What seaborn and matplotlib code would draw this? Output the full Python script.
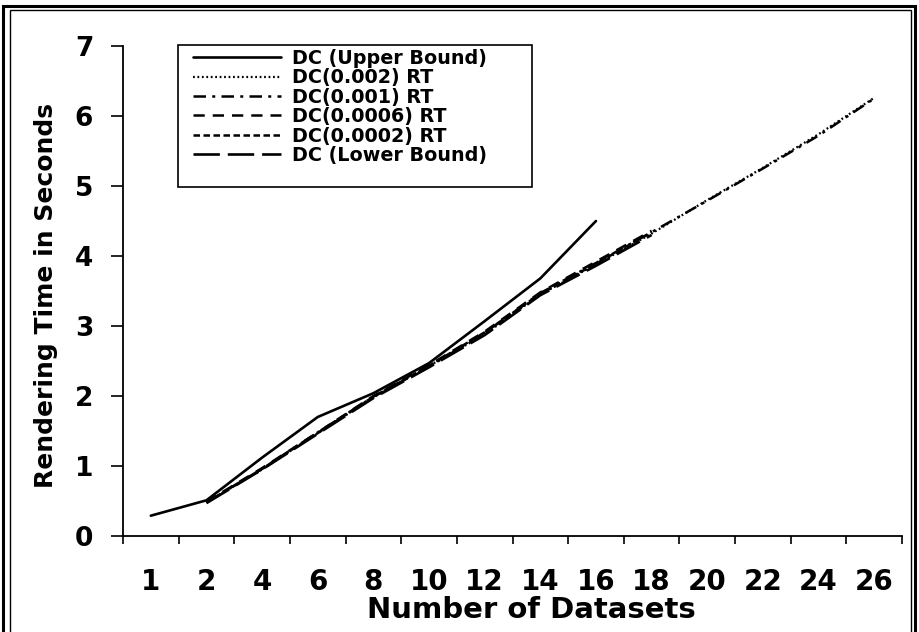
import numpy as np
import pandas as pd
import matplotlib
matplotlib.use("Agg")
import matplotlib.pyplot as plt
from matplotlib.patches import Rectangle
import seaborn as sns

# Number of datasets (categorical x axis)
categories = ["1", "2", "4", "6", "8", "10", "12", "14", "16", "18", "20", "22", "24", "26"]

# Rendering time in seconds for each configuration (nan = not measured)
nan = np.nan
upper_bound = [0.29, 0.51, 1.12, 1.70, 2.04, 2.47, 3.07, 3.68, 4.50, nan, nan, nan, nan, nan]
rt_0002 = [nan, 0.48, 0.95, 1.47, 1.98, 2.43, 2.88, 3.45, 3.88, 4.32, 4.80, 5.26, 5.74, 6.26]
rt_0001 = [nan, 0.48, 0.96, 1.48, 1.99, 2.42, 2.90, 3.47, 3.90, 4.34, 4.79, 5.25, 5.72, 6.25]
rt_00006 = [nan, 0.49, 0.97, 1.48, 2.00, 2.44, 2.92, 3.48, 3.92, 4.36, nan, nan, nan, nan]
rt_00002 = [nan, 0.48, 0.96, 1.47, 1.99, 2.43, 2.91, 3.46, 3.89, 4.34, nan, nan, nan, nan]
lower_bound = [nan, 0.47, 0.95, 1.46, 1.97, 2.41, 2.87, 3.44, 3.86, 4.30, nan, nan, nan, nan]

series_names = ["DC (Upper Bound)", "DC(0.002) RT", "DC(0.001) RT",
                "DC(0.0006) RT", "DC(0.0002) RT", "DC (Lower Bound)"]
series_values = [upper_bound, rt_0002, rt_0001, rt_00006, rt_00002, lower_bound]

styles = {
    "DC (Upper Bound)": dict(linestyle="-", linewidth=1.9),
    "DC(0.002) RT": dict(linestyle=(0, (0.8, 1.2)), linewidth=1.6),
    "DC(0.001) RT": dict(linestyle=(0, (5, 2.5, 1.2, 2.5)), linewidth=1.8),
    "DC(0.0006) RT": dict(linestyle=(0, (4.5, 3.2)), linewidth=1.8),
    "DC(0.0002) RT": dict(linestyle=(0, (2.6, 1.4)), linewidth=1.8),
    "DC (Lower Bound)": dict(linestyle=(0, (10, 3)), linewidth=1.9),
}

rows = []
for name, vals in zip(series_names, series_values):
    for i, v in enumerate(vals):
        rows.append({"series": name, "pos": i, "time": v})
df = pd.DataFrame(rows).dropna()

sns.set_theme(style="white")
plt.rcParams["font.family"] = ["DejaVu Sans"]
plt.rcParams["font.weight"] = "bold"
plt.rcParams["text.color"] = "black"
plt.rcParams["axes.labelcolor"] = "black"
plt.rcParams["xtick.color"] = "black"
plt.rcParams["ytick.color"] = "black"

fig = plt.figure(figsize=(9.19, 6.32), dpi=100)
W, H = 919, 632
AX_L, AX_R, AX_T, AX_B = 123, 902, 46, 536
ax = fig.add_axes([AX_L / W, 1 - AX_B / H, (AX_R - AX_L) / W, (AX_B - AX_T) / H])


def ax_x(px):
    return (px - AX_L) / (AX_R - AX_L)


def ax_y(py):
    return (AX_B - py) / (AX_B - AX_T)


for name in series_names:
    sub = df[df["series"] == name]
    sns.lineplot(data=sub, x="pos", y="time", ax=ax, color="black",
                 label=name, legend=False, **styles[name])

# axes limits and ticks
ax.set_xlim(-0.5, len(categories) - 0.5)
ax.set_ylim(0, 7)
ax.set_yticks(range(0, 8))
ax.set_yticklabels([str(v) for v in range(0, 8)], fontsize=19, fontweight="bold")

ax.set_xticks(np.arange(-0.5, len(categories), 1.0))
ax.set_xticklabels([])
ax.set_xticks(np.arange(len(categories)), minor=True)
ax.set_xticklabels(categories, minor=True, fontsize=20, fontweight="bold")

ax.tick_params(axis="x", which="major", direction="out", length=6, width=1.2,
               color="black", bottom=True)
ax.tick_params(axis="x", which="minor", length=0, pad=23, labelcolor="black")
ax.tick_params(axis="y", which="major", direction="out", length=8.5, width=1.2,
               color="black", pad=13, labelcolor="black", left=True)

for side in ["top", "right"]:
    ax.spines[side].set_visible(False)
for side in ["left", "bottom"]:
    ax.spines[side].set_color("black")
    ax.spines[side].set_linewidth(1.3)

ax.set_xlabel("Number of Datasets", fontsize=21, fontweight="bold", color="black")
ax.xaxis.set_label_coords(ax_x(531), ax_y(610))
ax.xaxis.label.set_va("center")
ax.set_ylabel("Rendering Time in Seconds", fontsize=18, fontweight="bold", color="black")
ax.yaxis.set_label_coords(ax_x(46), ax_y(295))
ax.yaxis.label.set_va("center")

ax.grid(False)

# legend: frame drawn as a rectangle, entries placed inside it
ax.add_patch(Rectangle((ax_x(178), ax_y(187)), ax_x(532) - ax_x(178), ax_y(45) - ax_y(187),
                       transform=ax.transAxes, fill=False, ec="black", lw=1.2,
                       clip_on=False, zorder=5))
handles = ax.get_lines()
leg = ax.legend(handles, series_names, loc="upper left",
                bbox_to_anchor=(ax_x(193), ax_y(49)),
                borderaxespad=0, borderpad=0, fontsize=13.8, frameon=False,
                handlelength=4.6, handletextpad=0.55, labelspacing=0.02)
for t in leg.get_texts():
    t.set_fontweight("bold")
    t.set_color("black")

# figure frame
fig.add_artist(Rectangle((2.5 / W, -0.05), (915 - 2.5) / W, 1.05 - 6 / H,
                         transform=fig.transFigure, fill=False, ec="black", lw=2.2))
fig.add_artist(Rectangle((10 / W, -0.05), (911 - 10) / W, 1.05 - 10 / H,
                         transform=fig.transFigure, fill=False, ec="black", lw=1.0))

fig.savefig("out.png", dpi=100, facecolor="white")
